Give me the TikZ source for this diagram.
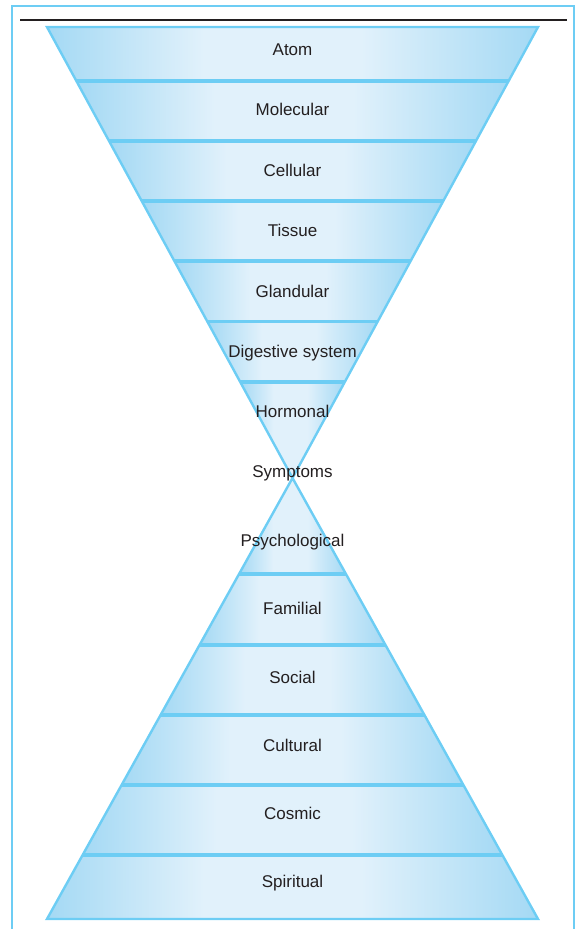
\documentclass[tikz,border=0pt]{standalone}
\usepackage{fontspec}
\setmainfont{Liberation Sans}
\usepackage{xcolor}
\usetikzlibrary{calc}

\definecolor{edgeblue}{RGB}{109,205,244}
\definecolor{banddark}{RGB}{164,217,244}
\definecolor{bandlight}{RGB}{225,241,251}
\definecolor{inkgray}{RGB}{35,31,32}

\pgfdeclarehorizontalshading{bandshade}{100bp}{color(0bp)=(banddark); color(25bp)=(banddark);
  color(41bp)=(bandlight); color(57bp)=(bandlight); color(75bp)=(banddark); color(100bp)=(banddark)}

\tikzset{
  band/.style={shading=bandshade},
  rim/.style={draw=edgeblue, line width=2.4pt, line join=miter},
  sep/.style={draw=edgeblue, line width=3.2pt},
  lbl/.style={anchor=base, text=inkgray, font=\fontsize{17}{20}\selectfont, inner sep=0pt}
}

\begin{document}
\begin{tikzpicture}[x=1pt, y=-1pt]
    \useasboundingbox (0,0) rectangle (576,929);
    % frame and rule
    \draw[draw=edgeblue, line width=2pt] (12,6) rectangle (574,945);
    \draw[draw=inkgray, line width=1.2pt] (20,20) -- (567,20);

    % upper funnel
    \coordinate (t0l) at (47,27);    \coordinate (t0r) at (538,27);
    \coordinate (t1l) at (76.4,81);  \coordinate (t1r) at (508.6,81);
    \coordinate (t2l) at (109.1,141);\coordinate (t2r) at (475.9,141);
    \coordinate (t3l) at (141.7,201);\coordinate (t3r) at (443.3,201);
    \coordinate (t4l) at (174.4,261);\coordinate (t4r) at (410.6,261);
    \coordinate (t5l) at (207.3,321.5);\coordinate (t5r) at (377.7,321.5);
    \coordinate (t6l) at (240.2,382);\coordinate (t6r) at (344.8,382);
    \coordinate (waist) at (292.5,478);

    % lower funnel
    \coordinate (b1l) at (238.9,574);\coordinate (b1r) at (346.1,574);
    \coordinate (b2l) at (199.3,645);\coordinate (b2r) at (385.7,645);
    \coordinate (b3l) at (160.3,715);\coordinate (b3r) at (424.7,715);
    \coordinate (b4l) at (121.2,785);\coordinate (b4r) at (463.8,785);
    \coordinate (b5l) at (82.2,855); \coordinate (b5r) at (502.8,855);
    \coordinate (b6l) at (47,919);   \coordinate (b6r) at (538,919);

    \shade[band] (t0l) -- (t0r) -- (t1r) -- (t1l) -- cycle;
    \shade[band] (t1l) -- (t1r) -- (t2r) -- (t2l) -- cycle;
    \shade[band] (t2l) -- (t2r) -- (t3r) -- (t3l) -- cycle;
    \shade[band] (t3l) -- (t3r) -- (t4r) -- (t4l) -- cycle;
    \shade[band] (t4l) -- (t4r) -- (t5r) -- (t5l) -- cycle;
    \shade[band] (t5l) -- (t5r) -- (t6r) -- (t6l) -- cycle;
    \shade[band] (t6l) -- (t6r) -- (waist) -- cycle;

    \shade[band] (waist) -- (b1r) -- (b1l) -- cycle;
    \shade[band] (b1l) -- (b1r) -- (b2r) -- (b2l) -- cycle;
    \shade[band] (b2l) -- (b2r) -- (b3r) -- (b3l) -- cycle;
    \shade[band] (b3l) -- (b3r) -- (b4r) -- (b4l) -- cycle;
    \shade[band] (b4l) -- (b4r) -- (b5r) -- (b5l) -- cycle;
    \shade[band] (b5l) -- (b5r) -- (b6r) -- (b6l) -- cycle;

    \draw[sep] (t1l) -- (t1r);
    \draw[sep] (t2l) -- (t2r);
    \draw[sep] (t3l) -- (t3r);
    \draw[sep] (t4l) -- (t4r);
    \draw[sep] (t5l) -- (t5r);
    \draw[sep] (t6l) -- (t6r);
    \draw[sep] (b1l) -- (b1r);
    \draw[sep] (b2l) -- (b2r);
    \draw[sep] (b3l) -- (b3r);
    \draw[sep] (b4l) -- (b4r);
    \draw[sep] (b5l) -- (b5r);

    \draw[rim] (t0l) -- (t0r) -- (waist) -- cycle;
    \draw[rim] (waist) -- (b6r) -- (b6l) -- cycle;

    % labels
    \node[lbl] (atom) at (292.5,55) {Atom};
    \node[lbl] (molecular) at (292.5,115) {Molecular};
    \node[lbl] (cellular) at (292.5,176) {Cellular};
    \node[lbl] (tissue) at (292.5,236) {Tissue};
    \node[lbl] (glandular) at (292.5,297) {Glandular};
    \node[lbl] (digestive) at (292.5,357) {Digestive system};
    \node[lbl] (hormonal) at (292.5,417) {Hormonal};
    \node[lbl] (symptoms) at (292.5,477) {Symptoms};
    \node[lbl] (psychological) at (292.5,546) {Psychological};
    \node[lbl] (familial) at (292.5,614) {Familial};
    \node[lbl] (social) at (292.5,683) {Social};
    \node[lbl] (cultural) at (292.5,751) {Cultural};
    \node[lbl] (cosmic) at (292.5,819) {Cosmic};
    \node[lbl] (spiritual) at (292.5,887) {Spiritual};
\end{tikzpicture}
\end{document}
